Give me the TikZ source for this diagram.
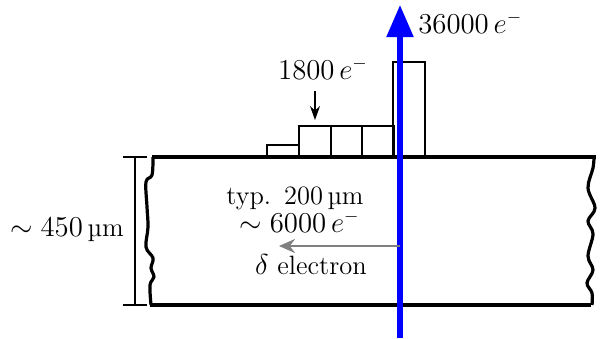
\documentclass[tikz,border=0pt]{standalone}
\usetikzlibrary{arrows.meta}
\begin{document}
\begin{tikzpicture}[x=0.5pt,y=-0.5pt,
  lbl/.style={font=\fontsize{13.25}{16}\selectfont, inner sep=0pt, anchor=base},
  edge/.style={line width=1.6pt, line join=round},
  bar/.style={draw, line width=0.6pt},
  dim/.style={line width=0.6pt}]
\useasboundingbox (0,0) rectangle (605,338);
% detector
\draw[edge] (152,157) -- (596,157);
\draw[edge] (150,305) -- (591,305);
\draw[edge] plot[smooth, tension=0.6] coordinates {(153,157) (152,175) (146,182) (147,207) (148,227) (146,247) (153,258) (151,268) (154,277) (150,285) (151,305)};
\draw[edge] plot[smooth, tension=0.6] coordinates {(594,157) (593,168) (588,188) (595,208) (588,221) (593,234) (588,256) (593,270) (587,283) (592,293) (592,305)};
% dimension
\coordinate (dt) at (135,157);
\coordinate (db) at (135,305);
\draw[dim] (dt) -- (db);
\draw[dim] (123,157) -- (147,157);
\draw[dim] (123,305) -- (147,305);
\node[lbl] (thick) at (67,236) {$\sim 450\,$\textmu m};
% bars
\draw[bar] (267,145) rectangle (299,157);
\draw[bar] (299,126) rectangle (331,157);
\draw[bar] (331,126) rectangle (362,157);
\draw[bar] (362,126) rectangle (394,157);
\draw[bar] (393,62) rectangle (425,157);
% labels
\node[lbl] (l1800) at (323,79) {$1800\,e^{-}$};
\coordinate (a1800) at (315,120);
\draw[-{Stealth[length=7pt,width=5pt]}, line width=0.8pt] (315,91) -- (a1800);
\node[lbl, anchor=base west] (l36000) at (418,33) {$36000\,e^{-}$};
% blue track
\coordinate (tb) at (400,338);
\coordinate (tt) at (400,5);
\draw[blue, line width=2.6pt, -{Triangle[length=16pt,width=13pt]}] (tb) -- (tt);
% text inside
\node[lbl, text depth=0pt] (typ) at (295,204) {typ.~\,200\,\textmu m};
\node[lbl, text height=5pt] (sim) at (299.5,232) {$\sim 6000\,e^{-}$};
\coordinate (ds) at (400,246);
\coordinate (de) at (279,246);
\draw[gray, line width=1.3pt, -{Stealth[length=8pt,width=7pt]}] (ds) -- (de);
\node[lbl] (delta) at (311,274) {$\delta$ electron};
\end{tikzpicture}
\end{document}
